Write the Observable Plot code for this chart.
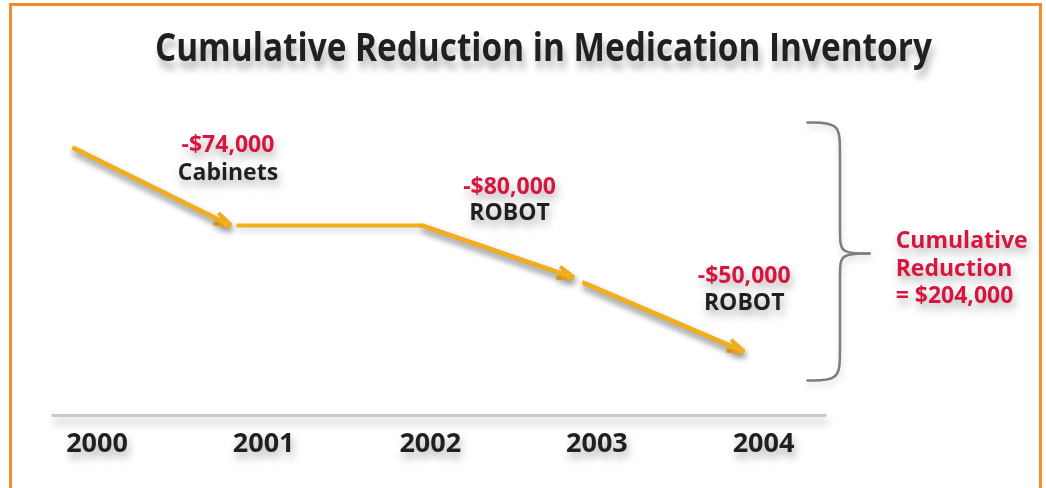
<!DOCTYPE html>
<html>
<head>
<meta charset="utf-8">
<script src="https://cdn.jsdelivr.net/npm/d3@7"></script>
<script src="https://cdn.jsdelivr.net/npm/@observablehq/plot@0.6"></script>
<style>
  html, body { margin: 0; padding: 0; background: #fff; }
  #wrap { position: relative; width: 1046px; height: 488px; overflow: hidden; background: #fff; }
  #frame { position: absolute; left: 9px; top: 3px; width: 1033px; height: 520px; box-sizing: border-box;
           border: 3px solid #f58a2b; border-bottom: none; }
  #title { position: absolute; left: 41px; width: 1005px; top: 26px; text-align: center;
           font-family: "Open Sans", sans-serif; font-weight: 700; font-size: 39px; line-height: 39px;
           color: #231f20; text-shadow: 3px 8px 8px rgba(0,0,0,0.3); white-space: nowrap; }
  #title span { display: inline-block; transform: scaleX(0.855); transform-origin: 50% 50%; }
  #chart { position: absolute; left: 0; top: 0; }
</style>
</head>
<body>
<div id="wrap">
  <div id="frame"></div>
  <div id="chart"></div>
  <div id="title"><span>Cumulative Reduction in Medication Inventory</span></div>
</div>
<script>
// ---- data ----
const years = [2000, 2001, 2002, 2003, 2004];

// inventory path (relative level, 0–100 = span of the cumulative brace)
const pathSeg   = ["A", "A", "B", "B", "B", "C", "C"];
const pathYear  = [1999.853, 2000.801, 2000.837, 2001.948, 2002.860, 2002.914, 2003.881];
const pathLevel = [90.3, 60.1, 60.1, 60.1, 39.9, 38.0, 11.2];

// annotations
const amounts      = ["-$74,000", "-$80,000", "-$50,000"];
const items        = ["Cabinets", "ROBOT", "ROBOT"];
const noteYear     = [2000.786, 2002.476, 2003.884];
const amountLevel  = [95.0, 78.7, 44.2];
const itemLevel    = [84.1, 68.6, 33.7];

const totalText  = "Cumulative\nReduction\n= $204,000";
const totalYear  = 2004.793;
const totalLevel = 58.9;

// brace geometry (in data units)
const braceYearLeft = 2004.264, braceYearSpine = 2004.459, braceYearTip = 2004.636;
const braceTop = 100, braceMid = 49.2, braceBottom = 0;
const braceBend = 9.5, braceNeck = 6.5;

// baseline rule
const baseLevel = -13.6, baseStart = 1999.73, baseEnd = 2004.38;

// ---- build tables ----
const points = pathYear.map((x, i) => ({seg: pathSeg[i], x, y: pathLevel[i]}));
const segs = Array.from(new Set(pathSeg));
const arrows = segs.map(s => {
  const p = points.filter(d => d.seg === s);
  const a = p[p.length - 2], b = p[p.length - 1];
  return {x1: a.x, y1: a.y, x2: b.x, y2: b.y};
});
const notes = amounts.map((a, i) => ({amount: a, item: items[i], x: noteYear[i], ya: amountLevel[i], yi: itemLevel[i]}));

const brace = [
  {h: "up", x: braceYearLeft,  y: braceTop},
  {h: "up", x: braceYearSpine, y: braceTop},
  {h: "up", x: braceYearSpine, y: braceTop - braceBend},
  {h: "up", x: braceYearSpine, y: braceMid + braceNeck},
  {h: "up", x: braceYearSpine, y: braceMid},
  {h: "up", x: braceYearTip,   y: braceMid},
  {h: "dn", x: braceYearTip,   y: braceMid},
  {h: "dn", x: braceYearSpine, y: braceMid},
  {h: "dn", x: braceYearSpine, y: braceMid - braceNeck},
  {h: "dn", x: braceYearSpine, y: braceBottom + braceBend},
  {h: "dn", x: braceYearSpine, y: braceBottom},
  {h: "dn", x: braceYearLeft,  y: braceBottom}
];

const gold = "#f2ae1c", red = "#d7163f", ink = "#231f20";
const textShadow = "drop-shadow(2px 6px 4px rgba(0,0,0,0.30))";
const lineShadow = "drop-shadow(1px 4px 3px rgba(0,0,0,0.16))";
const arrowOpts = (hl) => ({x1: "x1", y1: "y1", x2: "x2", y2: "y2", stroke: gold, strokeWidth: 4,
  headAngle: 40, headLength: hl, strokeLinejoin: "miter", strokeLinecap: "butt"});

const chart = Plot.plot({
  width: 1046,
  height: 488,
  marginLeft: 96.5,
  marginRight: 283,
  marginTop: 122,
  marginBottom: 108,
  style: {fontFamily: "'Open Sans', sans-serif", background: "transparent", overflow: "visible"},
  x: {domain: [2000, 2004], axis: null},
  y: {domain: [0, 100], axis: null},
  marks: [
    Plot.ruleY([baseLevel], {x1: baseStart, x2: baseEnd, stroke: "#c9c9cb", strokeWidth: 3}),
    Plot.axisX({ticks: years, tickFormat: d => String(d), tickSize: 0, tickPadding: 52,
      fontSize: 27, fontWeight: "bold", fill: ink}),
    Plot.line(points, {x: "x", y: "y", z: "seg", stroke: gold, strokeWidth: 4,
      strokeLinecap: "butt", strokeLinejoin: "miter", curve: "linear"}),
    Plot.arrow(arrows, arrowOpts(6.5)),
    Plot.arrow(arrows, arrowOpts(4.5)),
    Plot.arrow(arrows, arrowOpts(2.5)),
    Plot.line(brace, {x: "x", y: "y", z: "h", curve: "basis", stroke: "#7d7d7d", strokeWidth: 2.5}),
    Plot.text(notes, {x: "x", y: "ya", text: "amount", fill: red, fontSize: 23, fontWeight: "bold", lineAnchor: "top"}),
    Plot.text(notes, {x: "x", y: "yi", text: "item", fill: ink, fontSize: 23, fontWeight: "bold", lineAnchor: "top"}),
    Plot.text([totalText], {x: totalYear, y: totalLevel, text: d => d, fill: red, fontSize: 23,
      fontWeight: "bold", lineAnchor: "top", textAnchor: "start", lineHeight: 1.2})
  ]
});

chart.querySelectorAll(":scope > g").forEach(g => {
  const lab = g.getAttribute("aria-label") || "";
  g.style.filter = (lab === "line" || lab === "arrow") ? lineShadow : textShadow;
});
document.getElementById("chart").appendChild(chart);
</script>
</body>
</html>
